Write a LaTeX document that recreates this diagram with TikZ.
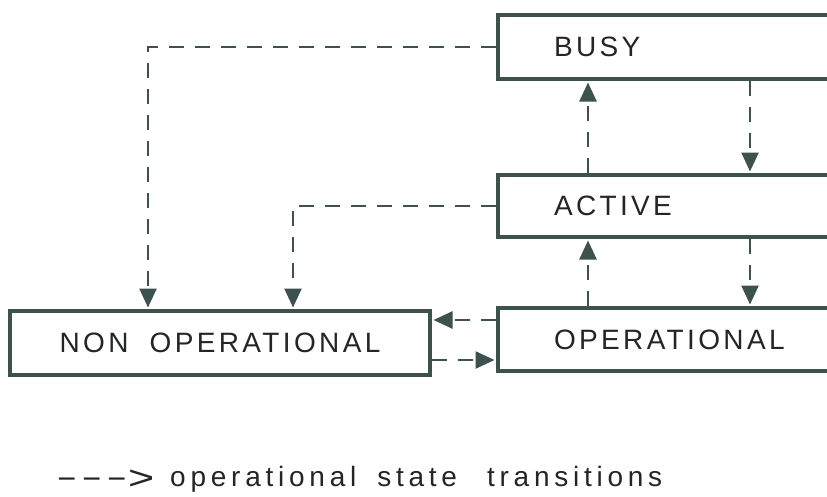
\documentclass[tikz,border=0pt]{standalone}
\usepackage{fontspec}
\usepackage{graphicx}
\setmainfont{Liberation Sans}
\newfontfamily\boxfont[LetterSpace=12]{Liberation Sans}
\newfontfamily\legfont[LetterSpace=17]{Liberation Sans}
\usetikzlibrary{arrows.meta}
\definecolor{ink}{RGB}{61,82,77}
\definecolor{txt}{RGB}{35,38,37}
\newcommand{\legdash}{\makebox[25pt][l]{\scalebox{2.3}[1]{-}}}
\tikzset{
  statebox/.style={draw=ink, line width=4pt, rectangle, text=txt,
    font=\boxfont\fontsize{28}{30}\selectfont, minimum height=64pt},
  rightbox/.style={statebox, minimum width=402pt, inner xsep=56pt,
    text width=290pt, align=left},
  conn/.style={draw=ink, line width=2.5pt, dash pattern=on 15pt off 11pt,
    -{Triangle[length=19pt,width=17pt]}, shorten >=1.5pt},
}
\begin{document}
\begin{tikzpicture}[x=1pt,y=-1pt]
\useasboundingbox (0,0) rectangle (827,496);
\clip (0,0) rectangle (827,496);
\fill[white] (0,0) rectangle (827,496);
\node[rightbox] (busy) at (699,47) {BUSY};
\node[rightbox, minimum height=62pt] (active) at (699,206) {ACTIVE};
\node[rightbox, minimum height=63pt] (op) at (699,339.5) {OPERATIONAL};
\node[statebox, minimum width=420pt] (nonop) at (220,343) {NON\hspace{10pt} OPERATIONAL};
\coordinate (upx) at (588,0);
\coordinate (downx) at (750,0);
\coordinate (lefty) at (0,320);
\coordinate (righty) at (0,360);
\coordinate (busyx) at (148,0);
\coordinate (activex) at (293,0);
\draw[conn] (busy.west) -| (nonop.north -| busyx);
\draw[conn] (active.west) -| (nonop.north -| activex);
\draw[conn] (active.north -| upx) -- (busy.south -| upx);
\draw[conn] (busy.south -| downx) -- (active.north -| downx);
\draw[conn] (op.north -| upx) -- (active.south -| upx);
\draw[conn] (active.south -| downx) -- (op.north -| downx);
\draw[conn] (op.west |- lefty) -- (nonop.east |- lefty);
\draw[conn] (nonop.east |- righty) -- (op.west |- righty);
\node[anchor=base west, inner sep=0pt, text=txt, font=\legfont\fontsize{28}{30}\selectfont] (legend) at (56,486)
  {\legdash\legdash\makebox[22pt][l]{\scalebox{2.3}[1]{-}}\makebox[42pt][l]{\raisebox{-3pt}{\scalebox{1.6}[1.2]{>}}}operational\hspace{21pt}state\hspace{30pt}transitions};
\end{tikzpicture}
\end{document}
